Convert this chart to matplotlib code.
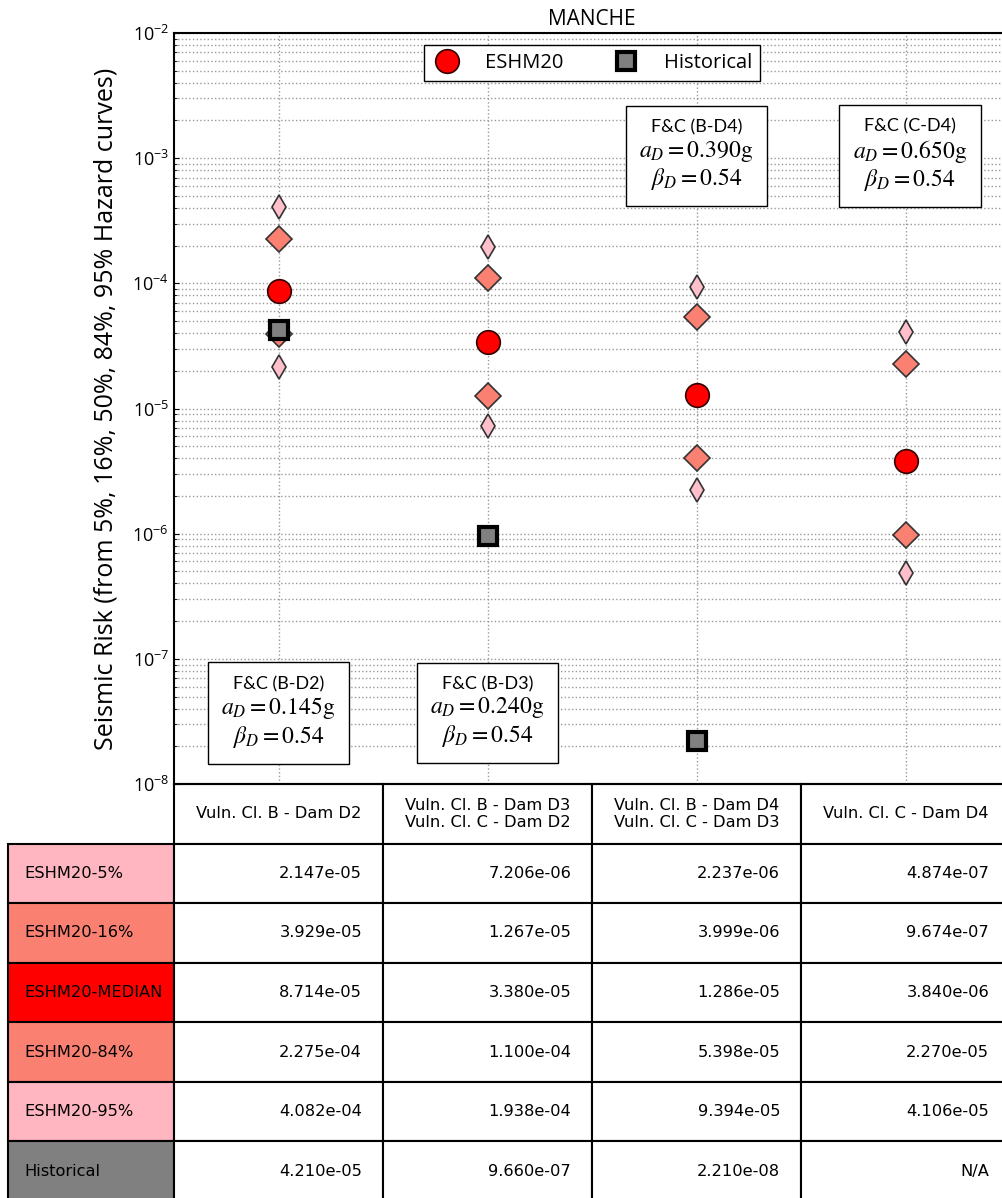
import numpy as np
import matplotlib
matplotlib.use('Agg')
import matplotlib.pyplot as plt
from matplotlib.offsetbox import TextArea, VPacker, AnnotationBbox

plt.rcParams['font.family'] = ['Open Sans', 'DejaVu Sans']
plt.rcParams['mathtext.fontset'] = 'stix'

cases = ['Vuln. Cl. B - Dam D2',
         'Vuln. Cl. B - Dam D3\nVuln. Cl. C - Dam D2',
         'Vuln. Cl. B - Dam D4\nVuln. Cl. C - Dam D3',
         'Vuln. Cl. C - Dam D4']
p05 = [2.147e-05, 7.206e-06, 2.237e-06, 4.874e-07]
p16 = [3.929e-05, 1.267e-05, 3.999e-06, 9.674e-07]
p50 = [8.714e-05, 3.380e-05, 1.286e-05, 3.840e-06]
p84 = [2.275e-04, 1.100e-04, 5.398e-05, 2.270e-05]
p95 = [4.082e-04, 1.938e-04, 9.394e-05, 4.106e-05]
hist = [4.210e-05, 9.660e-07, 2.210e-08, np.nan]

row_names = ['ESHM20-5%', 'ESHM20-16%', 'ESHM20-MEDIAN', 'ESHM20-84%', 'ESHM20-95%', 'Historical']
row_colors = ['#ffb6c1', 'salmon', 'red', 'salmon', '#ffb6c1', 'gray']

# fragility (F&C) boxes
fc_labels = ['F&C (B-D2)', 'F&C (B-D3)', 'F&C (B-D4)', 'F&C (C-D4)']
a_D = ['0.145', '0.240', '0.390', '0.650']
beta_D = '0.54'
box_x = [0, 1, 2, 3.02]
box_y = [3.7e-8, 3.7e-8, 1.04e-3, 1.04e-3]

fig = plt.figure(figsize=(10.02, 11.98), dpi=100)
ax = fig.add_axes([174/1002, 1 - 784/1198, 836/1002, 751/1198])

x = np.arange(len(cases))
ax.plot(x, p05, 'd', ms=12.5, mfc='pink', mec='#333333', mew=1.2, ls='none', zorder=3)
ax.plot(x, p95, 'd', ms=12.5, mfc='pink', mec='#333333', mew=1.2, ls='none', zorder=3)
ax.plot(x, p16, 'D', ms=13, mfc='salmon', mec='#333333', mew=1.2, ls='none', zorder=3)
ax.plot(x, p84, 'D', ms=13, mfc='salmon', mec='#333333', mew=1.2, ls='none', zorder=3)
ax.plot(x, p50, 'o', ms=17, mfc='red', mec='#330000', mew=1.2, ls='none', zorder=4, label='ESHM20')
ax.plot(x, hist, 's', ms=13, mfc='gray', mec='black', mew=3, ls='none', zorder=5, label='Historical')

ax.set_yscale('log')
ax.set_ylim(1e-8, 1e-2)
ax.set_xlim(-0.5, 3.5)
ax.set_xticks(x)
ax.set_xticklabels([])
ax.tick_params(axis='x', length=0)
ax.tick_params(axis='y', which='both', direction='in', labelsize=13)
ax.grid(True, which='both', axis='y', ls=':', color='#999999', lw=1)
ax.grid(True, which='major', axis='x', ls=':', color='#999999', lw=1)
for s in ax.spines.values():
    s.set_linewidth(1.5)

ax.set_ylabel('Seismic Risk (from 5%, 16%, 50%, 84%, 95% Hazard curves)', fontsize=18, labelpad=10)
ax.set_title('MANCHE', fontsize=15, pad=6)

ax.legend(loc='upper center', ncol=2, fontsize=14.5, fancybox=False, edgecolor='black',
          framealpha=1, handlelength=1.5, handletextpad=1.1, columnspacing=2.4, borderaxespad=0.6)

for i in range(len(fc_labels)):
    lines = [TextArea(fc_labels[i], textprops=dict(size=13, family='Lato')),
             TextArea('$a_D = ' + a_D[i] + '\\mathrm{g}$', textprops=dict(size=17)),
             TextArea('$\\beta_D = ' + beta_D + '$', textprops=dict(size=17))]
    pack = VPacker(children=lines, align='center', pad=10, sep=2)
    ab = AnnotationBbox(pack, (box_x[i], box_y[i]), xycoords='data', frameon=True, pad=0,
                        box_alignment=(0.5, 0.5),
                        bboxprops=dict(boxstyle='square,pad=0', fc='white', ec='black', lw=1))
    ab.set_zorder(6)
    ax.add_artist(ab)

# table under the axes
cell_text = []
for j, vals in enumerate([p05, p16, p50, p84, p95, hist]):
    row = [row_names[j]]
    for v in vals:
        row.append('N/A' if np.isnan(v) else '%.3e' % v)
    cell_text.append(row)

tab = ax.table(cellText=cell_text, colLabels=[''] + cases,
               colWidths=[166] + [209] * 4, cellLoc='right',
               bbox=[-166/836, -417/751, 1002/836, 417/751])
tab.auto_set_font_size(False)
tab.set_fontsize(11.7)
for (r, c), cell in tab.get_celld().items():
    cell.set_linewidth(1.5)
    cell.get_text().set_family('DejaVu Sans')
    if r == 0:
        cell.get_text().set_ha('center')
        cell._loc = 'center'
        if c == 0:
            cell.set_edgecolor('none')
    elif c == 0:
        cell.set_facecolor(row_colors[r - 1])
        cell._loc = 'left'
        cell.get_text().set_ha('left')

fig.savefig('out.png', dpi=100)
